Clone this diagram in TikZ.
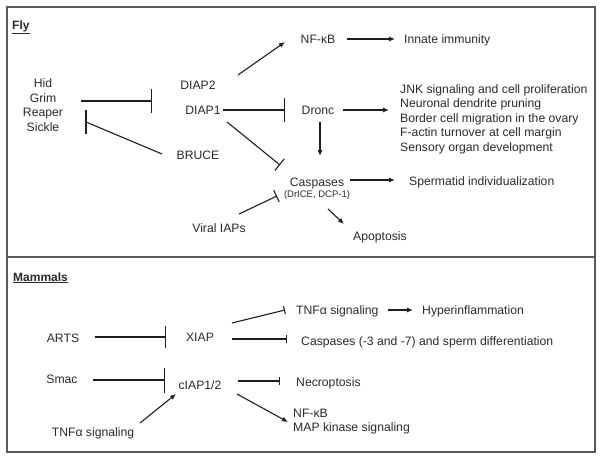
\documentclass[tikz,border=0pt]{standalone}
\usepackage{fontspec}
\setmainfont{Liberation Sans}
\usetikzlibrary{arrows.meta,calc}
\definecolor{ln}{HTML}{1E1E1E}
\definecolor{tx}{HTML}{2A2A2A}
\definecolor{framec}{HTML}{5A5A5A}
\begin{document}
\begin{tikzpicture}[x=1pt,y=-1pt,
  lbl/.style={inner sep=0pt, text=tx, font=\fontsize{12.2}{14.6}\selectfont},
  small/.style={inner sep=0pt, text=tx, font=\fontsize{9.5}{11}\selectfont},
  head/.style={inner sep=0pt, text=tx, font=\fontsize{12}{14}\selectfont\bfseries},
  conn/.style={draw=ln, line width=1.1pt},
  act/.style={conn, -{Latex[length=6pt,width=5pt]}},
  inhbig/.style={conn, -{Bar[width=24pt]}},
  inhmid/.style={conn, -{Bar[width=15pt]}},
  inhsmall/.style={conn, -{Bar[width=8pt]}},
  panel/.style={draw=framec, line width=1.2pt}]
\useasboundingbox (0,0) rectangle (602,460);
\draw[panel] (7,7) rectangle (595,257);
\draw[panel] (7,257) rectangle (595,452);

% ---------- Fly ----------
\node[head, anchor=base west] (fly) at (12,29.5) {\underline{Fly}};
\node[lbl, align=center, font=\fontsize{12.2}{14.7}\selectfont] (hids) at (43,105) {Hid\\Grim\\Reaper\\Sickle};
\node[lbl, anchor=base] (diap2) at (198,89.5) {DIAP2};
\node[lbl, anchor=base] (diap1) at (203,114.5) {DIAP1};
\node[lbl, anchor=base] (bruce) at (198,159.5) {BRUCE};
\node[lbl, anchor=base] (nfkb) at (318,43.5) {NF-κB};
\node[lbl, anchor=base west] (innate) at (404,43.5) {Innate immunity};
\node[lbl, anchor=base] (dronc) at (318,114.5) {Dronc};
\node[lbl, anchor=west, align=left, font=\fontsize{12.2}{14.5}\selectfont] (jnk) at (400,119.3)
  {JNK signaling and cell proliferation\\Neuronal dendrite pruning\\Border cell migration in the ovary\\F-actin turnover at cell margin\\Sensory organ development};
\node[lbl, anchor=base] (casp) at (317,186.5) {Caspases};
\node[small, anchor=base] (caspsub) at (317,197.5) {(DrICE, DCP-1)};
\node[lbl, anchor=base west] (sperm) at (409,185.5) {Spermatid individualization};
\node[lbl, anchor=base] (apop) at (380,240.5) {Apoptosis};
\node[lbl, anchor=base] (viral) at (219,232.5) {Viral IAPs};

\draw[inhbig] ($(hids.center)+(38,-4)$) -- ($(diap1.base)+(-51,-13.5)$);
\draw[act] ($(diap2.base)+(40,-14.5)$) -- ($(nfkb.base)+(-33,-1.5)$);
\draw[act] ($(nfkb.base)+(29,-4.5)$) -- ($(innate.base west)+(-9,-4.5)$);
\draw[inhbig] ($(diap1.base)+(20,-4.5)$) -- ($(dronc.base)+(-33,-4.5)$);
\draw[act] ($(dronc.base)+(25,-4.5)$) -- ($(jnk.west)+(-11,-9.3)$);
\draw[act] ($(dronc.base)+(2,7.5)$) -- ($(casp.base)+(3,-30.5)$);
\draw[act] ($(casp.base)+(33,-6.5)$) -- ($(sperm.base west)+(-14,-5.5)$);
\draw[act] ($(casp.base)+(11,22.5)$) -- ($(apop.base)+(-36,-16.5)$);
\draw[conn] ($(bruce.base)+(-36,-5.5)$) -- ($(hids.center)+(43,17)$);
\draw[conn] ($(hids.center)+(43,5)$) -- ($(hids.center)+(43,29)$);
\draw[inhmid] ($(diap1.base)+(24,7.5)$) -- ($(casp.base)+(-37,-21.5)$);
\draw[conn, -{Bar[width=13pt]}] ($(viral.base)+(20,-18.5)$) -- ($(casp.base)+(-40,9.5)$);

% ---------- Mammals ----------
\node[head, anchor=base west] (mammals) at (13,281) {\underline{Mammals}};
\node[lbl, anchor=base] (arts) at (63,342.5) {ARTS};
\node[lbl, anchor=base] (xiap) at (200,341.5) {XIAP};
\node[lbl, anchor=base] (smac) at (62,383.5) {Smac};
\node[lbl, anchor=base] (ciap) at (200,389.5) {cIAP1/2};
\node[lbl, anchor=base] (tnfin) at (93,436.5) {TNFα signaling};
\node[lbl, anchor=base west] (tnfout) at (296,314.5) {TNFα signaling};
\node[lbl, anchor=base west] (hyper) at (422,314.5) {Hyperinflammation};
\node[lbl, anchor=base west] (caspm) at (301,345.5) {Caspases (-3 and -7) and sperm differentiation};
\node[lbl, anchor=base west] (necro) at (296,386.5) {Necroptosis};
\node[lbl, anchor=west, align=left, font=\fontsize{12.2}{14}\selectfont] (nfkbm) at (293,421.5) {NF-κB\\MAP kinase signaling};

\draw[conn, -{Bar[width=22pt]}] ($(arts.base)+(32,-5.5)$) -- ($(xiap.base)+(-34,-4.5)$);
\draw[conn, -{Bar[width=25pt]}] ($(smac.base)+(31,-3.5)$) -- ($(ciap.base)+(-35,-9.5)$);
\draw[act] ($(tnfin.base)+(47,-13.5)$) -- ($(ciap.base)+(-24,4.5)$);
\draw[inhsmall] ($(xiap.base)+(32,-18.5)$) -- ($(tnfout.base west)+(-11,-4.5)$);
\draw[inhsmall] ($(xiap.base)+(32,-2.5)$) -- ($(caspm.base west)+(-14,-6.5)$);
\draw[inhsmall] ($(ciap.base)+(38,-8.5)$) -- ($(necro.base west)+(-16,-5.5)$);
\draw[act] ($(ciap.base)+(37,4.5)$) -- ($(nfkbm.west)+(-5,0.5)$);
\draw[act] ($(tnfout.base west)+(92,-4.5)$) -- ($(hyper.base west)+(-9,-4.5)$);
\end{tikzpicture}
\end{document}
